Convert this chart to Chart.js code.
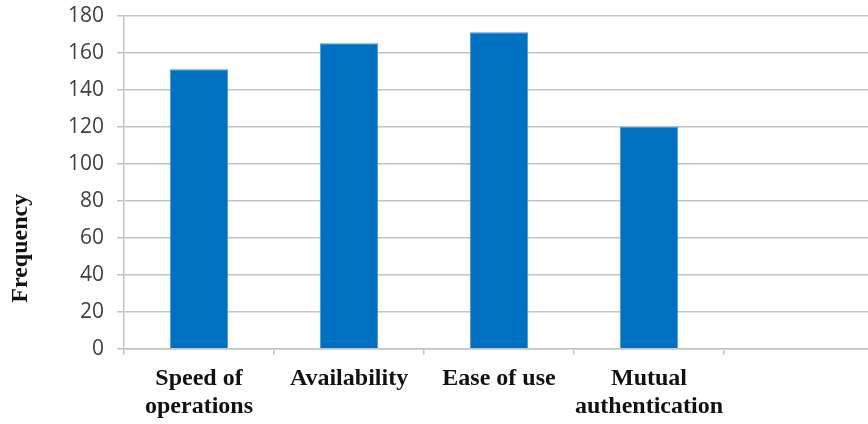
<!DOCTYPE html>
<html>
<head>
<meta charset="utf-8">
<script src="https://cdn.jsdelivr.net/npm/chart.js@4/dist/chart.umd.min.js"></script>
<style>
  html, body { margin: 0; padding: 0; background: #fff; overflow: hidden; }
  #wrap { width: 874px; height: 434px; margin-top: -10px; position: relative; }
</style>
</head>
<body>
<div id="wrap"><canvas id="chart"></canvas></div>
<script>
// Chart data
const categories = [['Speed of', 'operations'], 'Availability', 'Ease of use', ['Mutual', 'authentication'], ''];
const frequency = [151, 165, 171, 120, null];
const yTicks = [0, 20, 40, 60, 80, 100, 120, 140, 160, 180];
const yTitle = 'Frequency';

const gridColor = '#c4c4c4';
const serifBold = { family: 'Liberation Serif', weight: 'bold', size: 24, lineHeight: 1.17 };

// Y title sits a little below the middle of the axis in the original
const yTitlePlugin = {
  id: 'yTitle',
  afterDraw(chart) {
    const ctx = chart.ctx;
    const area = chart.chartArea;
    ctx.save();
    ctx.translate(21, (area.top + area.bottom) / 2 + 66);
    ctx.rotate(-Math.PI / 2);
    ctx.font = 'bold 24px "Liberation Serif"';
    ctx.fillStyle = '#111';
    ctx.textAlign = 'center';
    ctx.textBaseline = 'middle';
    ctx.fillText(yTitle, 0, 0);
    ctx.restore();
  }
};

new Chart(document.getElementById('chart'), {
  type: 'bar',
  data: {
    labels: categories,
    datasets: [{
      label: yTitle,
      data: frequency,
      backgroundColor: '#0070C0',
      borderColor: '#4a95d0',
      borderWidth: 1,
      barPercentage: 0.78,
      categoryPercentage: 0.5
    }]
  },
  options: {
    responsive: true,
    maintainAspectRatio: false,
    animation: false,
    layout: {
      padding: { top: 0, right: 0, bottom: -7, left: 55 }
    },
    plugins: {
      legend: { display: false },
      tooltip: { enabled: false }
    },
    scales: {
      x: {
        grid: {
          drawOnChartArea: false,
          drawTicks: true,
          tickLength: 6,
          color: gridColor,
          lineWidth: 1.5
        },
        border: { color: gridColor, width: 1.5 },
        ticks: {
          color: '#111',
          padding: 10,
          maxRotation: 0,
          autoSkip: false,
          font: serifBold
        }
      },
      y: {
        min: 0,
        max: 180,
        afterBuildTicks: axis => {
          axis.ticks = yTicks.map(v => ({ value: v }));
        },
        grid: {
          color: gridColor,
          lineWidth: 1.5,
          tickLength: 7
        },
        border: { color: gridColor, width: 1.5 },
        ticks: {
          color: '#404040',
          padding: 13,
          font: { family: 'Open Sans', size: 21 }
        }
      }
    }
  },
  plugins: [yTitlePlugin]
});
</script>
</body>
</html>
